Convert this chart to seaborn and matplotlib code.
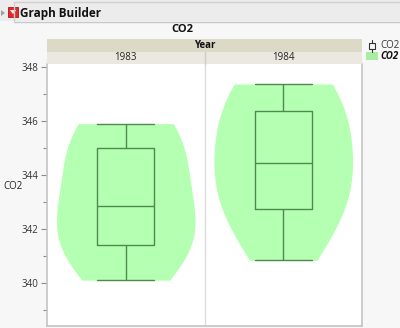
import numpy as np
import pandas as pd
import matplotlib
matplotlib.use("Agg")
import matplotlib.pyplot as plt
from matplotlib.patches import Rectangle, Polygon
from matplotlib.lines import Line2D
from matplotlib.ticker import MultipleLocator
import seaborn as sns

# ---- data ----
years = ["1983", "1984"]
co2_1983 = [340.1, 340.95, 341.3, 341.43, 342.1, 342.45, 343.23, 343.9, 344.85, 345.45, 345.65, 345.9]
co2_1984 = [340.83, 342.0, 342.6, 342.79, 343.8, 344.25, 344.61, 345.3, 346.15, 347.0, 347.2, 347.37]
yticks = [340, 342, 344, 346, 348]
title = "CO2"
group_title = "Year"

df = pd.DataFrame({
    "Year": [years[0]] * len(co2_1983) + [years[1]] * len(co2_1984),
    "CO2": co2_1983 + co2_1984,
})

sns.set_theme(style="white")
plt.rcParams["font.family"] = ["Open Sans", "DejaVu Sans"]

W, H = 400, 328
fig = plt.figure(figsize=(W / 100, H / 100), dpi=100, facecolor="#f7f7f7")


def fx(px):
    return px / W


def fy(py):
    return 1 - py / H


def frect(x0, y0, x1, y1, **kw):
    fig.patches.append(Rectangle((fx(x0), fy(y1)), fx(x1) - fx(x0), fy(y0) - fy(y1),
                                 transform=fig.transFigure, **kw))


def fline(xs, ys, **kw):
    fig.lines.append(Line2D([fx(v) for v in xs], [fy(v) for v in ys],
                            transform=fig.transFigure, **kw))


# ---- title bar ----
frect(0, 0, 400, 21, facecolor="#ececec", edgecolor="none")
fline([14, 400], [1.5, 1.5], color="#d0d0d0", lw=1)
fline([14, 400], [21.5, 21.5], color="#c8c8c8", lw=1)
fline([14, 14], [1.5, 21.5], color="#d0d0d0", lw=1)
fig.patches.append(Polygon([[fx(1), fy(10)], [fx(5), fy(13)], [fx(1), fy(16)]], closed=True,
                           transform=fig.transFigure, facecolor="#a0a0a0", edgecolor="none"))
frect(8, 7, 18, 17, facecolor="#e02a2e", edgecolor="#b01818", lw=0.6)
fig.patches.append(Polygon([[fx(9.8), fy(10)], [fx(16.2), fy(10)], [fx(13), fy(14.2)]], closed=True,
                           transform=fig.transFigure, facecolor="#fbe3e3", edgecolor="none"))
fig.text(fx(19.5), fy(13), "Graph Builder", fontsize=8.5, fontweight="bold", color="#111111",
         ha="left", va="center")

# ---- chart title ----
fig.text(fx(182), fy(30), title, fontsize=8, fontweight="bold", color="#111111", ha="center", va="center")

# ---- group header bands ----
frect(47, 38.5, 362, 52, facecolor="#dcd9c6", edgecolor="none")
frect(47, 52, 362, 64, facecolor="#ebe9df", edgecolor="none")
fline([204.5, 204.5], [52, 64], color="#cfcdc4", lw=1)
fig.text(fx(204.5), fy(45.5), group_title, fontsize=7, fontweight="bold", color="#111111",
         ha="center", va="center")

# ---- main axes ----
ax = fig.add_axes([fx(47), fy(326), fx(362) - fx(47), fy(64) - fy(326)])
ax.set_facecolor("white")

sns.violinplot(data=df, x="Year", y="CO2", order=years, cut=0, inner=None, width=0.88,
               density_norm="width", bw_adjust=1.25, color="#b4ffb2", saturation=1,
               linewidth=0, ax=ax)
sns.boxplot(data=df, x="Year", y="CO2", order=years, width=0.36, whis=np.inf, fill=False,
            color="#4e8a4e", linewidth=1.0, ax=ax)

# caps as wide as the boxes
for line in ax.lines:
    xd = np.asarray(line.get_xdata(), dtype=float)
    yd = np.asarray(line.get_ydata(), dtype=float)
    if len(xd) == 2 and yd[0] == yd[1] and abs(xd[1] - xd[0]) < 0.3 and abs(xd[1] - xd[0]) > 0:
        c = xd.mean()
        line.set_xdata([c - 0.18, c + 0.18])

ax.axvline(0.5, color="#dcdcdc", lw=1, zorder=0)
ax.set_xlim(-0.5, 1.5)
ax.set_ylim(338.4, 348.11)

ax.set_yticks(yticks)
ax.set_yticklabels([str(t) for t in yticks])
ax.yaxis.set_minor_locator(MultipleLocator(1))
ax.tick_params(axis="y", which="major", direction="out", length=4, width=0.8, color="#8a8a8a",
               labelsize=7, labelcolor="#333333", pad=2, left=True)
ax.tick_params(axis="y", which="minor", direction="out", length=3, width=0.8, color="#8a8a8a", left=True)
ax.set_xticks([])
ax.set_xlabel("")
ax.set_ylabel("")
for s in ["left", "right", "bottom"]:
    ax.spines[s].set_color("#c4c4c4")
    ax.spines[s].set_linewidth(1.2)
ax.spines["top"].set_visible(False)

# year labels over the panels
for i, yr in enumerate(years):
    xpix = 47 + (i + 0.5) * (362 - 47) / len(years)
    fig.text(fx(xpix), fy(58), yr, fontsize=7, color="#222222", ha="center", va="center")

# y-axis label
fig.text(fx(13), fy(187), title, fontsize=7, color="#222222", ha="center", va="center")

# ---- legend ----
frect(368.5, 42.5, 375, 49, facecolor="none", edgecolor="#333333", lw=0.8)
fline([371.75, 371.75], [39.5, 42.5], color="#333333", lw=0.8)
fline([371.75, 371.75], [49, 52], color="#333333", lw=0.8)
fig.text(fx(380.5), fy(45.5), title, fontsize=7, color="#333333", ha="left", va="center")
frect(366, 52.5, 378, 59.5, facecolor="#a9eda3", edgecolor="none", hatch="////")
fig.text(fx(380.5), fy(56.5), title, fontsize=7, fontweight="bold", fontstyle="italic",
         color="#111111", ha="left", va="center")

fig.savefig("out.png", dpi=100, facecolor=fig.get_facecolor())
